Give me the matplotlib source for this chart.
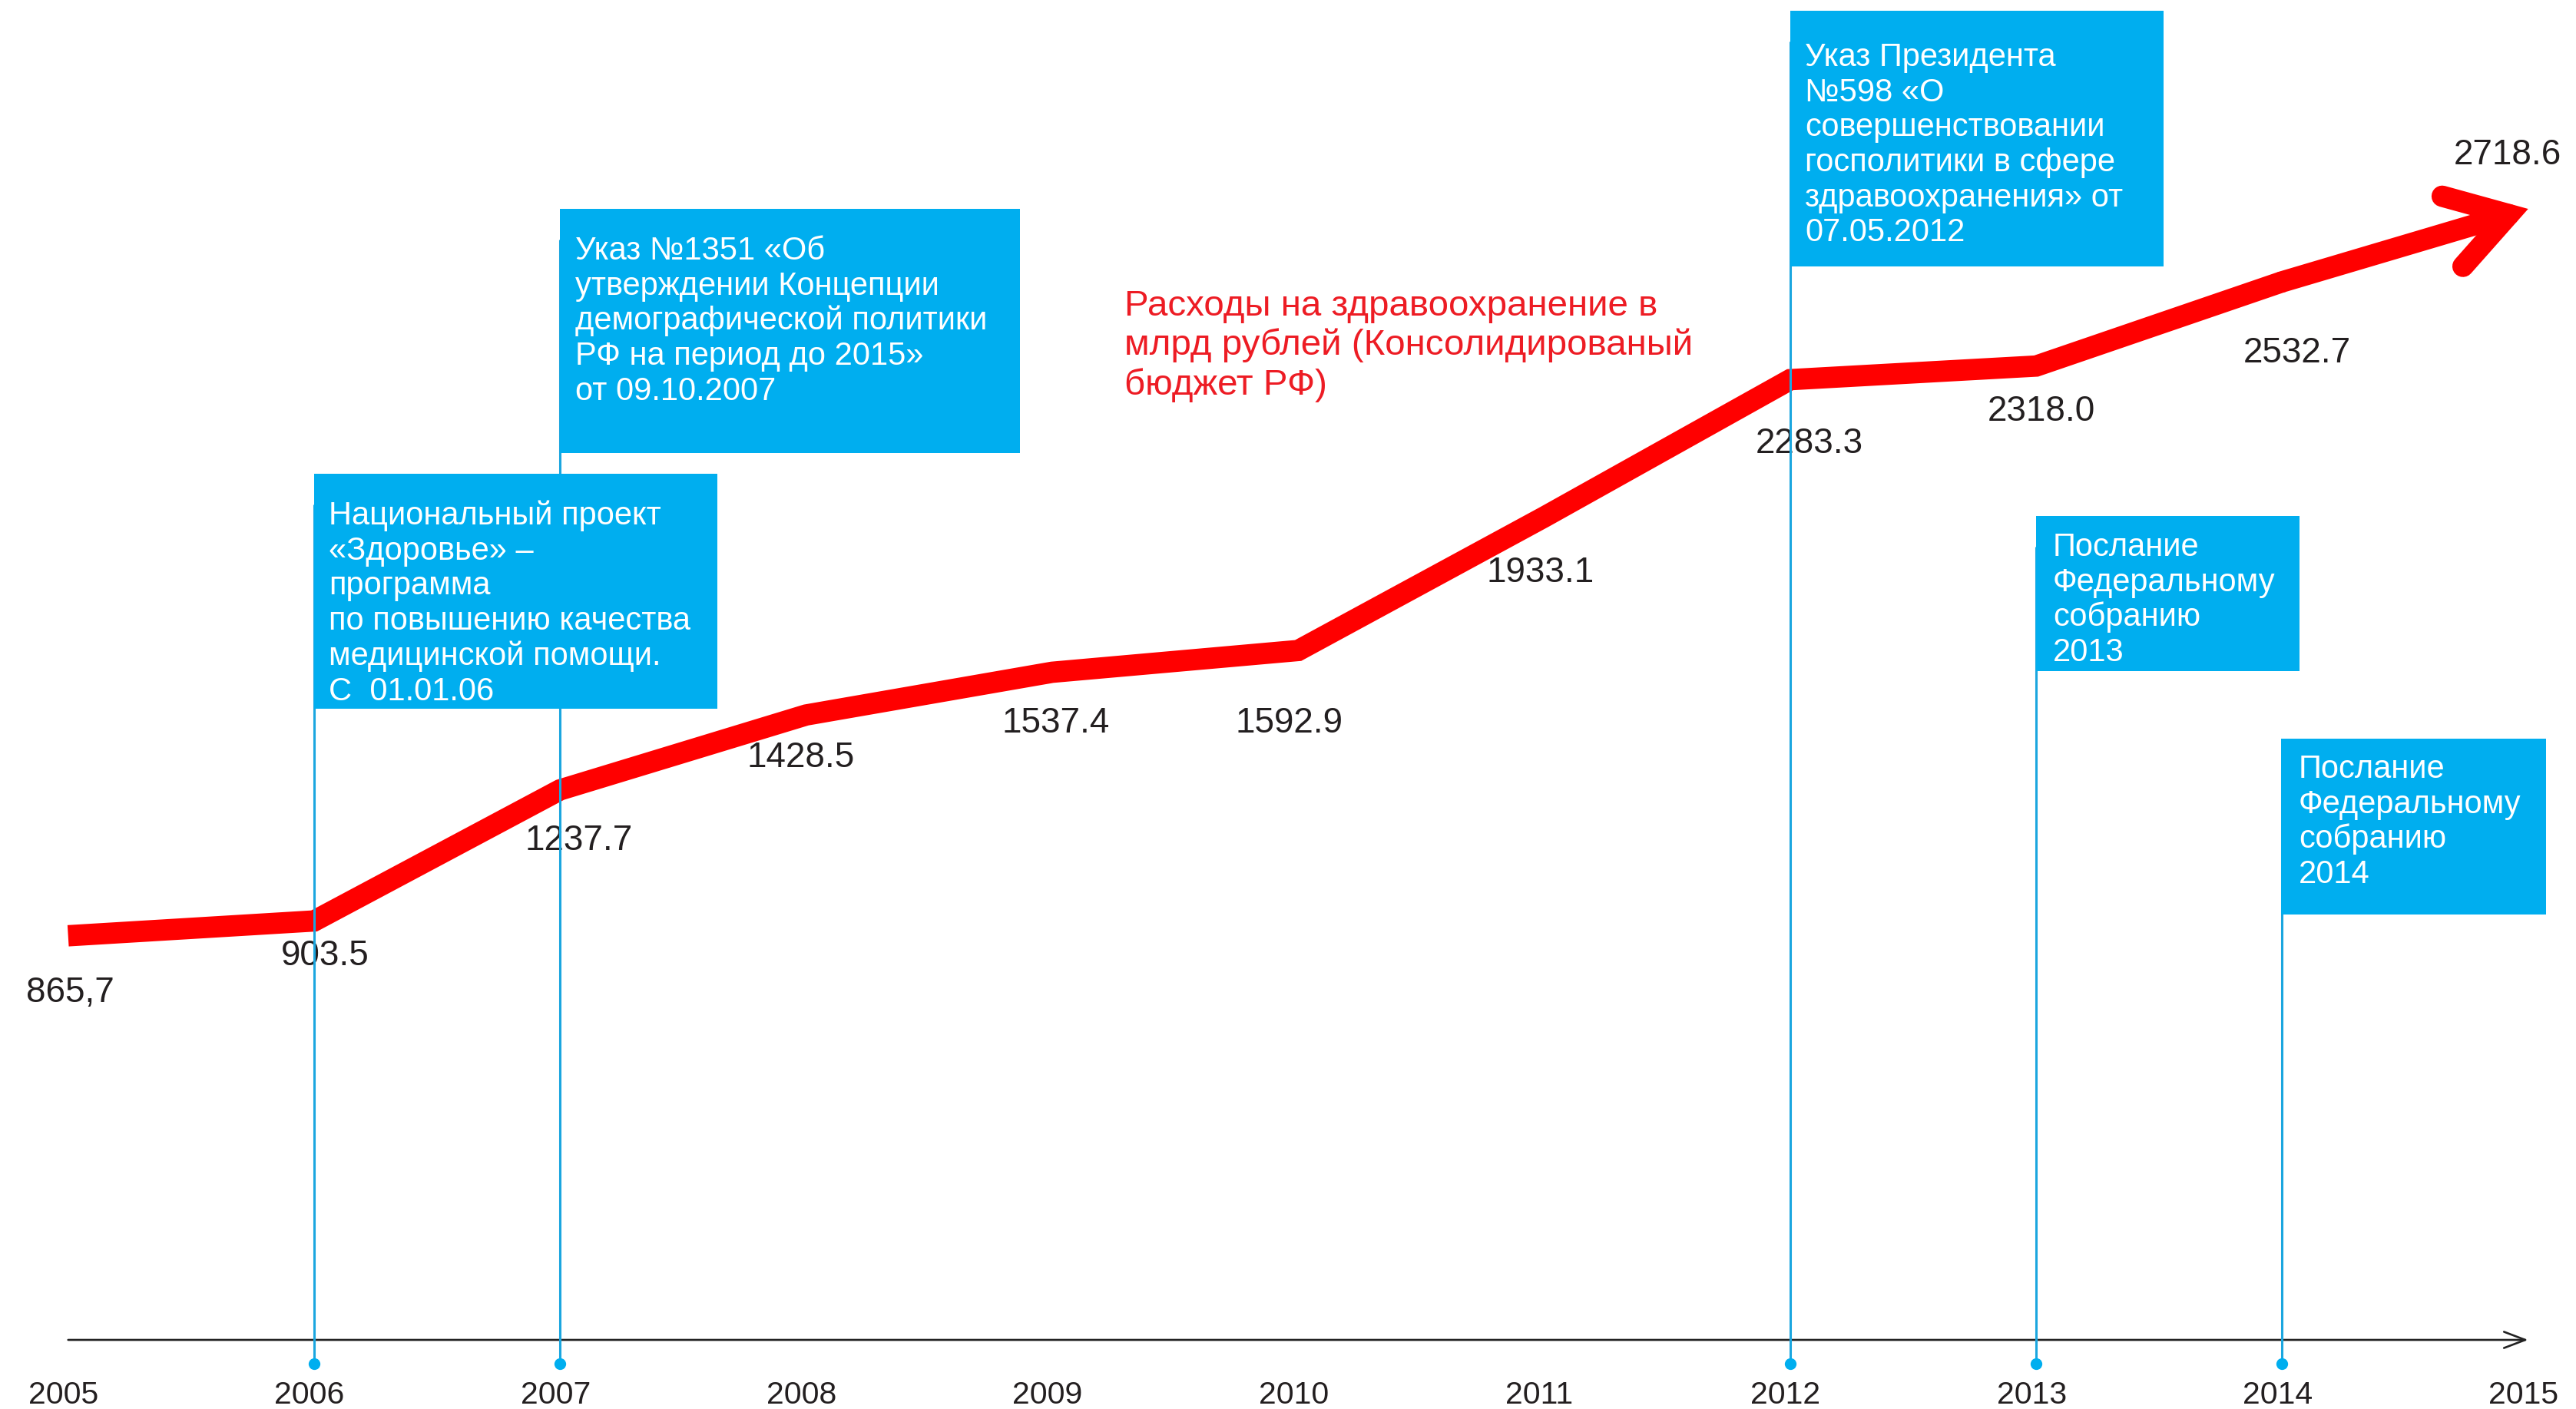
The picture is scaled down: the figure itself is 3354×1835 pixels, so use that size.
import matplotlib
matplotlib.use('Agg')
import matplotlib.pyplot as plt
import matplotlib.transforms as mtransforms
from matplotlib.patches import Rectangle, FancyArrowPatch

plt.rcParams['font.family'] = ['Liberation Sans', 'DejaVu Sans']

# ---------------- data ----------------
years = [2005, 2006, 2007, 2008, 2009, 2010, 2011, 2012, 2013, 2014, 2015]
spending = [865.7, 903.5, 1237.7, 1428.5, 1537.4, 1592.9, 1933.1, 2283.3, 2318.0, 2532.7, 2718.6]
value_labels = ['865,7', '903.5', '1237.7', '1428.5', '1537.4', '1592.9',
                '1933.1', '2283.3', '2318.0', '2532.7', '2718.6']
year_labels = [str(y) for y in years]
event_years = [2006, 2007, 2012, 2013, 2014]
event_texts = [
    'Национальный проект\n«Здоровье» –\nпрограмма\nпо повышению качества\nмедицинской помощи.\nС  01.01.06',
    'Указ №1351 «Об\nутверждении Концепции\nдемографической политики\nРФ на период до 2015»\nот 09.10.2007',
    'Указ Президента\n№598 «О\nсовершенствовании\nгосполитики в сфере\nздравоохранения» от\n07.05.2012',
    'Послание\nФедеральному\nсобранию\n2013',
    'Послание\nФедеральному\nсобранию\n2014',
]
title_text = 'Расходы на здравоохранение в\nмлрд рублей (Консолидированый\nбюджет РФ)'

# ---------------- layout (pixels, y from top) ----------------
W, H, DPI = 3354, 1835, 100
def fx(px):
    return px / W
def fy(py):
    return 1 - py / H

# label offsets (pixels, right / up) for the value labels
label_dx = [3, 14, 24, -7, 5, -12, -5, 25, 7, 19, -27]
label_dy = [-86, -58, -78, -68, -78, -107, -85, -96, -71, -105, 58]

# boxes: left, top, right, bottom, text_left, first_baseline
boxes = [
    (409, 617, 934, 923, 428, 683),
    (729, 272, 1328, 590, 749, 338),
    (2331, 14, 2817, 347, 2350, 86),
    (2651, 672, 2994, 874, 2673, 724),
    (2970, 962, 3315, 1191, 2993, 1013),
]
box_line_step = 45.7

RED = '#FF0000'
BLUE = '#00AEEF'
VLINE = '#1BA6DF'
DARK = '#231F20'
LINE_W = 20

fig = plt.figure(figsize=(W / DPI, H / DPI), dpi=DPI)
ax = fig.add_axes([0, 0, 1, 1])
ax.set_xlim(2004.72307, 2015.19451)
ax.set_ylim(-340.6, 3251.1)
ax.axis('off')

blend = mtransforms.blended_transform_factory(ax.transData, fig.transFigure)

# main red line
ax.plot(years[:-1], spending[:-1], color=RED, lw=LINE_W,
        solid_joinstyle='miter', solid_capstyle='butt', zorder=2)
arrow = FancyArrowPatch(posA=(years[-2], spending[-2]), posB=(years[-1], spending[-1]),
                        arrowstyle='->,head_length=0.55,head_width=0.343',
                        mutation_scale=100, lw=LINE_W, color=RED,
                        capstyle='round', joinstyle='miter',
                        shrinkA=0, shrinkB=0, zorder=2)
ax.add_patch(arrow)

# value labels
for yr, v, lab, dx, dy in zip(years, spending, value_labels, label_dx, label_dy):
    ax.annotate(lab, xy=(yr, v), xytext=(dx, dy), textcoords='offset pixels',
                ha='center', va='baseline', fontsize=33, color=DARK, zorder=3)

# x axis with open arrow
axis_arrow = FancyArrowPatch(posA=(years[0], fy(1745)), posB=(years[-1], fy(1745)),
                             transform=blend,
                             arrowstyle='->,head_length=2.0,head_width=0.76',
                             mutation_scale=10, lw=1.9, color='#222222',
                             shrinkA=0, shrinkB=0, zorder=2)
ax.add_patch(axis_arrow)

# year labels
for yr, lab in zip(years, year_labels):
    ax.annotate(lab, xy=(yr, fy(1828)), xycoords=blend, xytext=(-6, 0),
                textcoords='offset pixels', ha='center', va='baseline',
                fontsize=29.5, color=DARK, zorder=3)

# event lines, dots, boxes
for yr, txt, (l, t, r, b, tl, bl) in zip(event_years, event_texts, boxes):
    ax.plot([yr, yr], [fy(1776), fy(t + 40)], transform=blend, color=VLINE,
            lw=2.2, zorder=4, solid_capstyle='butt')
    ax.plot([yr], [fy(1776)], 'o', transform=blend, color=BLUE, ms=11,
            mec='none', zorder=4)
    rect = Rectangle((fx(l), fy(b)), fx(r - l), (b - t) / H,
                     transform=fig.transFigure, facecolor=BLUE, edgecolor='none',
                     zorder=5, clip_on=False)
    ax.add_patch(rect)
    for i, line in enumerate(txt.split('\n')):
        ax.text(fx(tl), fy(bl + i * box_line_step), line, transform=fig.transFigure,
                ha='left', va='baseline', fontsize=30, color='white', zorder=6)

# red title
for i, line in enumerate(title_text.split('\n')):
    ax.text(fx(1464), fy(411 + i * 51.5), line, transform=fig.transFigure,
            ha='left', va='baseline', fontsize=34.2, color='#ED1C24', zorder=3)

fig.savefig('out.png', dpi=DPI, facecolor='white')
